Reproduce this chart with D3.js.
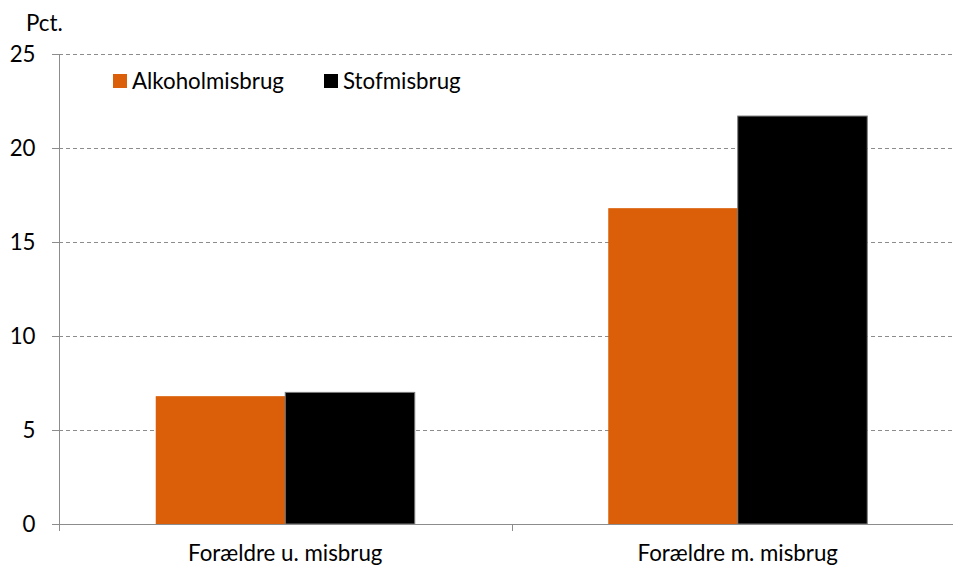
<!DOCTYPE html>
<html><head><meta charset="utf-8">
<script src="https://cdn.jsdelivr.net/npm/d3@7"></script>
<style>
html,body{margin:0;padding:0;background:#fff;}
svg{display:block;}
text{font-family:"Lato","Open Sans",sans-serif;fill:#000;}
</style></head>
<body>
<svg id="c" width="953" height="565"></svg>
<script>
const categories = ["Forældre u. misbrug", "Forældre m. misbrug"];
const seriesNames = ["Alkoholmisbrug", "Stofmisbrug"];
const alkohol = [6.8, 16.8];
const stof = [7.0, 21.7];
const yTicks = [0, 5, 10, 15, 20, 25];
const colors = ["#DB5F08", "#000000"];
const values = [alkohol, stof];

const svg = d3.select("#c");
const fs = 22.3;
const x0 = 59, x1 = 964, yTop = 54, yBot = 524;

const x = d3.scaleBand().domain(categories).range([x0, x1]).paddingInner(0).paddingOuter(0);
const xs = d3.scaleBand().domain(seriesNames).range([0, x.bandwidth()]).paddingInner(0).paddingOuter(0.747);
const y = d3.scaleLinear().domain([0, 25]).range([yBot, yTop]);

// gridlines
svg.append("g").selectAll("line").data(yTicks.filter(d => d > 0)).join("line")
  .attr("x1", 52).attr("x2", 953)
  .attr("y1", d => Math.round(y(d)) + 0.5).attr("y2", d => Math.round(y(d)) + 0.5)
  .attr("stroke", "#8c8c8c").attr("stroke-width", 1).attr("stroke-dasharray", "4,3");

// bars
const groups = svg.append("g").selectAll("g").data(categories).join("g")
  .attr("transform", d => `translate(${x(d)},0)`);
groups.selectAll("rect").data((c, i) => seriesNames.map((s, j) => ({s, v: values[j][i], j})))
  .join("rect")
  .attr("x", d => xs(d.s)).attr("width", xs.bandwidth())
  .attr("y", d => y(d.v)).attr("height", d => y(0) - y(d.v))
  .attr("fill", d => colors[d.j])
  .attr("stroke", d => d.j === 1 ? "#7a7a7a" : "none")
  .attr("stroke-width", 1);

// y axis
const yAxis = d3.axisLeft(y).tickValues(yTicks).tickSize(7).tickPadding(17);
const gy = svg.append("g").attr("transform", `translate(${x0 + 0.5},0)`).call(yAxis);
gy.select(".domain").remove();
gy.selectAll(".tick line").attr("stroke", "#8c8c8c");
gy.selectAll(".tick text").attr("font-size", fs).attr("font-family", "Lato").attr("fill", "#000");
svg.append("line").attr("x1", x0 + 0.5).attr("x2", x0 + 0.5).attr("y1", yTop).attr("y2", yBot + 7)
  .attr("stroke", "#8c8c8c");

// x axis
svg.append("line").attr("x1", 52).attr("x2", 953).attr("y1", yBot + 0.5).attr("y2", yBot + 0.5)
  .attr("stroke", "#8c8c8c");
const xb = [x0, x(categories[1])];
svg.append("g").selectAll("line").data(xb).join("line")
  .attr("x1", d => Math.round(d) + 0.5).attr("x2", d => Math.round(d) + 0.5)
  .attr("y1", yBot).attr("y2", yBot + 7).attr("stroke", "#8c8c8c");
svg.append("g").selectAll("text").data(categories).join("text")
  .attr("x", d => x(d) + x.bandwidth() / 2).attr("y", 561)
  .attr("text-anchor", "middle").attr("font-size", fs).text(d => d);

// y title
svg.append("text").attr("x", 26).attr("y", 31).attr("font-size", fs).text("Pct.");

// legend
const legX = [113, 324];
const leg = svg.append("g").selectAll("g").data(seriesNames).join("g")
  .attr("transform", (d, i) => `translate(${legX[i]},74)`);
leg.append("rect").attr("width", 14).attr("height", 14).attr("fill", (d, i) => colors[i]);
leg.append("text").attr("x", 19).attr("y", 14.5).attr("font-size", fs).text(d => d);
</script>
</body></html>
